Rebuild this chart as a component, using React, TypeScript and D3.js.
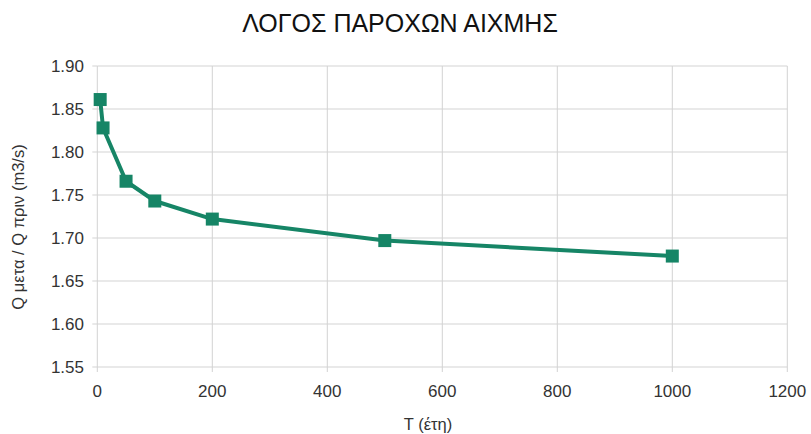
import React from "react";
import * as d3 from "d3";

const periods = [5, 10, 50, 100, 200, 500, 1000];
const ratios = [1.861, 1.828, 1.766, 1.743, 1.722, 1.697, 1.679];
const xTicks = [0, 200, 400, 600, 800, 1000, 1200];
const yTicks = [1.55, 1.6, 1.65, 1.7, 1.75, 1.8, 1.85, 1.9];
const title = "ΛΟΓΟΣ ΠΑΡΟΧΩΝ ΑΙΧΜΗΣ";
const xLabel = "T (έτη)";
const yLabel = "Q μετα / Q πριν (m3/s)";

export default function App() {
  const W = 811, H = 434;
  const x = d3.scaleLinear().domain([0, 1200]).range([97.3, 787.3]);
  const y = d3.scaleLinear().domain([1.55, 1.9]).range([367, 66]);
  const line = d3.line<number>().x((_, i) => x(periods[i])).y((d) => y(d));
  const color = "#168566";
  const font = "'Liberation Sans', Arial, sans-serif";
  return (
    <svg width={W} height={H} style={{ position: "absolute", left: 0, top: 0, background: "#fff" }} fontFamily={font}>
      <rect width={W} height={H} fill="#fff" />
      {yTicks.map((t) => (
        <line key={"h" + t} x1={x(0)} x2={x(1200)} y1={y(t)} y2={y(t)} stroke="#d3d3d3" strokeWidth={1} />
      ))}
      {xTicks.map((t) => (
        <line key={"v" + t} x1={x(t)} x2={x(t)} y1={y(1.9)} y2={y(1.55)} stroke="#d3d3d3" strokeWidth={1} />
      ))}
      {yTicks.map((t) => (
        <line key={"yt" + t} x1={x(0) - 5} x2={x(0)} y1={y(t)} y2={y(t)} stroke="#d3d3d3" />
      ))}
      {xTicks.map((t) => (
        <line key={"xt" + t} x1={x(t)} x2={x(t)} y1={y(1.55)} y2={y(1.55) + 5} stroke="#d3d3d3" />
      ))}
      {yTicks.map((t) => (
        <text key={"yl" + t} x={84} y={y(t) + 6} textAnchor="end" fontSize={17} fill="#333">
          {t.toFixed(2)}
        </text>
      ))}
      {xTicks.map((t) => (
        <text key={"xl" + t} x={x(t)} y={397} textAnchor="middle" fontSize={17} fill="#333">
          {t}
        </text>
      ))}
      <path d={line(ratios) || ""} fill="none" stroke={color} strokeWidth={4} strokeLinejoin="round" />
      {ratios.map((v, i) => (
        <rect key={"m" + i} x={x(periods[i]) - 6.5} y={y(v) - 6.5} width={13} height={13} fill={color} />
      ))}
      <text x={400} y={32} textAnchor="middle" fontSize={25} fill="#111">{title}</text>
      <text x={428} y={430} textAnchor="middle" fontSize={16.5} fill="#333">{xLabel}</text>
      <text transform={`translate(24,227) rotate(-90)`} textAnchor="middle" fontSize={16.5} fill="#333">{yLabel}</text>
    </svg>
  );
}
